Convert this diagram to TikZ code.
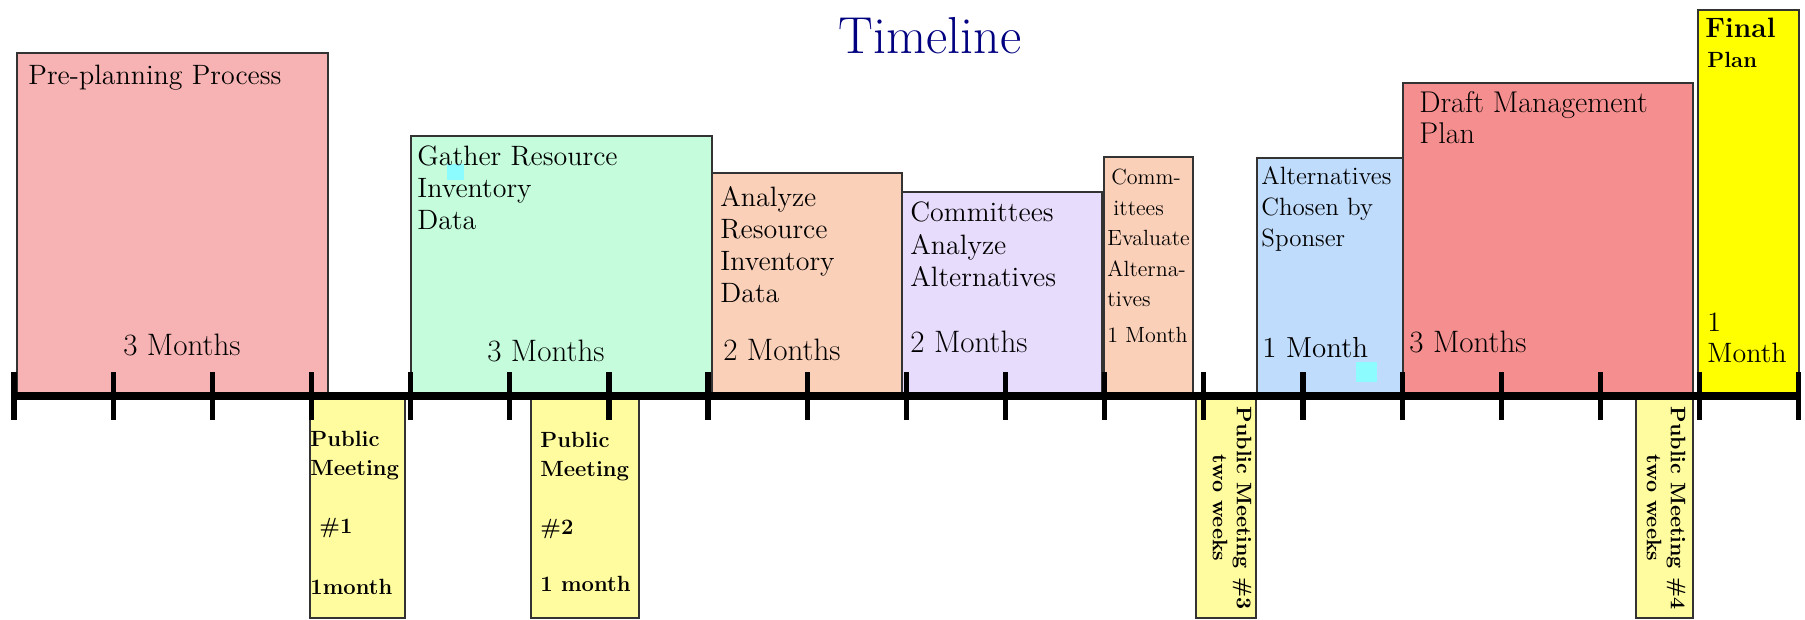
\documentclass[tikz,border=0pt]{standalone}
\usepackage{amsmath,amssymb}

\definecolor{prepink}{HTML}{F7B3B3}
\definecolor{gathergreen}{HTML}{C4FCDC}
\definecolor{peach}{HTML}{FAD0B9}
\definecolor{lavender}{HTML}{E8DCFC}
\definecolor{chosenblue}{HTML}{C0DCFC}
\definecolor{salmon}{HTML}{F58E8E}
\definecolor{finalyellow}{HTML}{FFFF00}
\definecolor{meetyellow}{HTML}{FFFC9F}
\definecolor{titleblue}{HTML}{000080}
\definecolor{handlecyan}{HTML}{8CFCFF}

\begin{document}
\begin{tikzpicture}[x=.5pt,y=.5pt,
  bar/.style={draw=black!80,line width=.9pt},
  txt/.style={anchor=base west,inner sep=0pt,align=left,font=\fontsize{14}{16}\selectfont},
  dur/.style={anchor=base west,inner sep=0pt,font=\fontsize{15.5}{17}\selectfont},
  meet/.style={anchor=base west,inner sep=0pt,align=left,font=\bfseries\fontsize{11}{14.5}\selectfont},
  meetrot/.style={rotate=-90,inner sep=0pt,align=center,font=\bfseries\fontsize{10.5}{12}\selectfont},
  handle/.style={fill=handlecyan}]
\path[use as bounding box] (0,-224) rectangle (1805,396);

% title
\node[anchor=base,inner sep=0pt,text=titleblue,font=\fontsize{26}{30}\selectfont] (title) at (930,342) {Timeline};

% phases above the line (multi-line labels sit on the baseline of their last line)
\filldraw[bar,fill=prepink] (17,0) rectangle (328,343);
\node[txt] (prep) at (28,311) {Pre-planning Process};
\node[dur] (prepDur) at (123,40) {3 Months};

\filldraw[bar,fill=gathergreen] (411,0) rectangle (712,260);
\fill[handle] (447,216) rectangle (464,232);
\node[txt] (gather) at (417,166) {Gather Resource\\Inventory\\Data};
\node[dur] (gatherDur) at (487,34) {3 Months};

\filldraw[bar,fill=peach] (712,0) rectangle (902,223);
\node[txt] (analyze) at (720,93) {Analyze\\Resource\\Inventory\\Data};
\node[dur] (analyzeDur) at (723,35) {2 Months};

\filldraw[bar,fill=lavender] (902,0) rectangle (1102,204);
\node[txt,font=\fontsize{14}{16.25}\selectfont] (commAn) at (910,109) {Committees\\Analyze\\Alternatives};
\node[dur] (commAnDur) at (910,43) {2 Months};

\filldraw[bar,fill=peach] (1104,0) rectangle (1193,239);
\node[txt,font=\fontsize{11}{15.25}\selectfont] (commEv) at (1107,89) {\hspace{2pt}Comm-\\\hspace{3pt}ittees\\Evaluate\\Alterna-\\tives};
\node[txt,font=\fontsize{11}{13}\selectfont] (commEvDur) at (1107,53) {1 Month};

\filldraw[bar,fill=chosenblue] (1257,0) rectangle (1403,238);
\fill[handle] (1356,14) rectangle (1377,34);
\node[txt,font=\fontsize{12.5}{15.5}\selectfont] (chosen) at (1261,149) {Alternatives\\Chosen by\\Sponser};
\node[txt,font=\fontsize{14.5}{16}\selectfont] (chosenDur) at (1262,38) {1 Month};

\filldraw[bar,fill=salmon] (1403,0) rectangle (1693,313);
\node[txt,font=\fontsize{15}{15.5}\selectfont] (draft) at (1419,252) {Draft Management\\Plan};
\node[dur] (draftDur) at (1409,43) {3 Months};

\filldraw[bar,fill=finalyellow] (1698,0) rectangle (1799,386);
\node[txt,font=\bfseries\fontsize{14}{15}\selectfont] (final) at (1705,358) {Final};
\node[txt,font=\bfseries\fontsize{11}{13}\selectfont] (finalPlan) at (1707,328) {Plan};
\node[txt,font=\fontsize{14}{15.5}\selectfont] (finalDur) at (1707,33) {1\\Month};

% public meetings below the line
\filldraw[bar,fill=meetyellow] (310,0) rectangle (405,-222);
\node[meet] (pm1) at (310,-199) {Public\\Meeting\\[14.5pt]\hspace{4.5pt}\#1\\[16pt]1month};

\filldraw[bar,fill=meetyellow] (531,0) rectangle (639,-222);
\node[meet] (pm2) at (540,-196) {Public\\Meeting\\[14.5pt]\#2\\[14pt]1 month};

\filldraw[bar,fill=meetyellow] (1196,0) rectangle (1256,-222);
\node[meetrot] (pm3) at (1232,-112) {Public Meeting \#3\\two weeks};

\filldraw[bar,fill=meetyellow] (1636,0) rectangle (1693,-222);
\node[meetrot] (pm4) at (1666,-112) {Public Meeting \#4\\two weeks};

% time line, one tick per month
\coordinate (lineStart) at (14,0);
\coordinate (lineEnd) at (1799,0);
\draw[line width=4pt] (lineStart) -- (lineEnd);
\foreach \k in {0,...,18}
  \draw[line width=2.6pt] ({14+99.15*\k},-24) -- ++(0,48);
\end{tikzpicture}
\end{document}
